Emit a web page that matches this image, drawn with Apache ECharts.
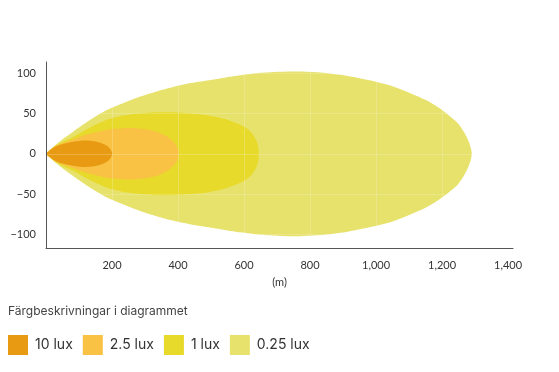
<!DOCTYPE html>
<html>
<head>
<meta charset="utf-8">
<script src="https://cdn.jsdelivr.net/npm/echarts@6/dist/echarts.min.js"></script>
<style>
html,body{margin:0;padding:0;background:#fff;}
#c{width:559px;height:372px;}
</style>
</head>
<body>
<div id="c"></div>
<script>
// Upper-half outlines of each illuminance zone: [distance (m), half-width (m)]
const lux025 = [[0,0],[10,4],[29,11],[55,19.5],[82,27.5],[130,41],[183,54],[235,63],[285,71],[335,77.5],[385,83],[435,87.5],[488,91],[540,94.5],[589,97.5],[650,100.5],[710,102],[770,102.3],[832,101],[910,97],[984,91],[1050,84],[1106,75],[1150,67],[1187,58],[1220,48],[1248,38],[1268,26],[1282,14],[1288,6],[1290,0]];
const lux1   = [[0,0],[10,4],[30,10.5],[55,16],[82,21],[130,32],[183,42],[235,47.5],[285,50],[335,51.5],[385,51.5],[440,50],[488,48],[540,43.5],[589,36],[610,31],[625,25],[637,17],[643,9],[645,0]];
const lux25  = [[0,0],[10,3.8],[30,10],[55,14],[82,18],[130,24.5],[183,29.6],[220,31.3],[250,32],[290,31],[335,27.5],[365,22],[386,15],[398,8],[403,0]];
const lux10  = [[0,0],[8,3],[25,8],[41,11],[60,13],[82,15],[100,16],[122,16.4],[145,15.6],[163,14],[178,11.5],[188,9],[196,5],[201,0]];

const seriesNames = ['0.25 lux','1 lux','2.5 lux','10 lux'];
const seriesData  = [lux025, lux1, lux25, lux10];
const colors      = ['#E7E26C','#E7DA2B','#F9C244','#E89B12'];
const legendOrder = ['10 lux','2.5 lux','1 lux','0.25 lux'];
const xTicks = [200,400,600,800,1000,1200,1400];
const yTicks = [-100,-50,0,50,100];

const FONT = 'Lato, "Open Sans", sans-serif';

function makeSeries(i){
  const pts = seriesData[i];
  return {
    type:'custom',
    name: seriesNames[i],
    itemStyle:{color: colors[i]},
    encode:{x:0,y:1},
    data: pts,
    z: 2 + i,
    renderItem: function(params, api){
      if (params.dataIndex !== 0) return null;
      const upper = pts.map(p => api.coord([p[0], p[1]]));
      const lower = pts.slice(1, -1).reverse().map(p => api.coord([p[0], -p[1]]));
      return {
        type:'polygon',
        shape:{points: upper.concat(lower), smooth: 0.25},
        style:{fill: api.visual('color')}
      };
    }
  };
}

const chart = echarts.init(document.getElementById('c'), null, {renderer:'canvas'});
chart.setOption({
  animation:false,
  backgroundColor:'#fff',
  title:{
    text:'Färgbeskrivningar i diagrammet',
    left:8, top:305, padding:0,
    textStyle:{fontSize:12, fontWeight:'normal', color:'#444', fontFamily:'Inter, sans-serif'}
  },
  legend:{
    data: legendOrder,
    left:8, top:335, padding:0,
    icon:'rect',
    itemWidth:20, itemHeight:20, itemGap:10,
    textStyle:{fontSize:14, color:'#333', fontFamily:'Inter, sans-serif', padding:[0,0,0,2]}
  },
  grid:{left:46, right:46, top:62, bottom:124, containLabel:false, outerBoundsMode:'none'},
  xAxis:{
    type:'value', min:0, max:1415, z:10,
    name:'(m)', nameLocation:'middle', nameGap:29,
    nameTextStyle:{fontSize:11, color:'#333', fontFamily:FONT},
    axisLine:{show:true, onZero:false, lineStyle:{color:'#555', width:1}},
    axisTick:{show:false, customValues:xTicks},
    axisLabel:{customValues:xTicks, margin:12, fontSize:11, color:'#333', fontFamily:FONT,
      formatter: v => v.toLocaleString('en-US')},
    splitLine:{show:true, lineStyle:{color:'rgba(255,255,255,0.2)', width:1}}
  },
  yAxis:{
    type:'value', min:-117, max:114, z:10,
    name:'(m)', nameLocation:'middle', nameGap:27,
    nameTextStyle:{fontSize:11, color:'#333', fontFamily:FONT},
    axisLine:{show:true, onZero:false, lineStyle:{color:'#555', width:1}},
    axisTick:{show:false, customValues:yTicks},
    axisLabel:{customValues:yTicks, margin:10, fontSize:11, color:'#333', fontFamily:FONT,
      formatter: v => (v < 0 ? '\u2212' + Math.abs(v) : String(v))},
    splitLine:{show:true, lineStyle:{color:'rgba(255,255,255,0.2)', width:1}}
  },
  series: [0,1,2,3].map(makeSeries)
});
</script>
</body>
</html>
